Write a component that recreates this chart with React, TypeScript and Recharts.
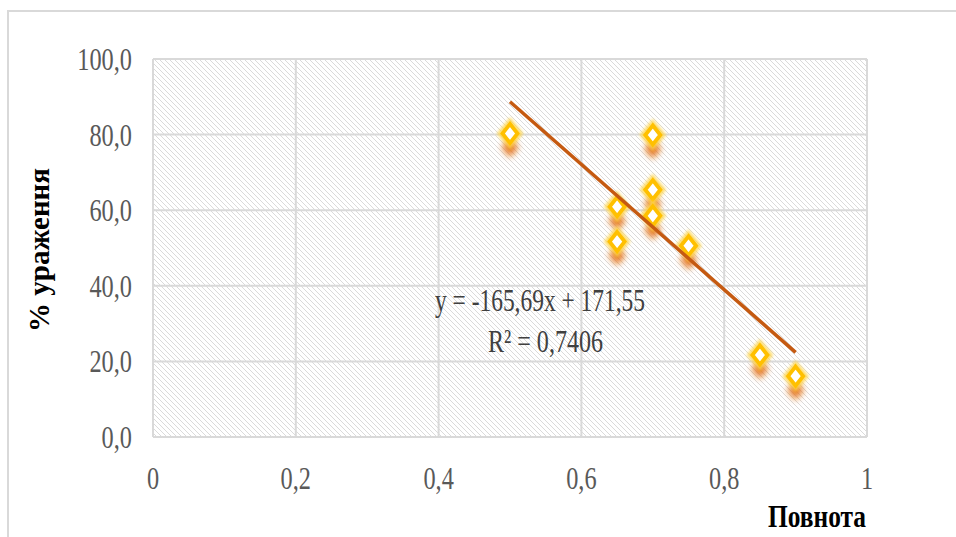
import { CartesianGrid, Scatter, ScatterChart, XAxis, YAxis } from "recharts";

// повнота (x) vs % ураження (y)
const povnota = [0.5, 0.65, 0.65, 0.7, 0.7, 0.7, 0.75, 0.85, 0.9];
const urazhennia = [80.3, 60.9, 51.7, 79.9, 65.4, 58.5, 50.6, 21.7, 16.1];

// linear trendline end points
const trendX = [0.5, 0.9];
const trendY = [88.7, 22.4];

const xTicks = [0, 0.2, 0.4, 0.6, 0.8, 1];
const yTicks = [0, 20, 40, 60, 80, 100];

const equationText = "y = -165,69x + 171,55";
const r2Text = "R² = 0,7406";
const xTitle = "Повнота";
const yTitle = "% ураження";

const points = povnota.map((x, i) => ({ x, y: urazhennia[i] }));
const trend = trendX.map((x, i) => ({ x, y: trendY[i] }));

const SERIF = "'Liberation Serif', 'Times New Roman', serif";

const YTick = (p: any) => (
  <text
    transform={`translate(${p.x - 21},${p.y + 11}) scale(0.76,1)`}
    textAnchor="end"
    fontSize={32}
    fontFamily={SERIF}
    fill="#595959"
  >
    {p.payload.value.toFixed(1).replace(".", ",")}
  </text>
);

const XTick = (p: any) => (
  <text
    transform={`translate(${p.x},${p.y + 52}) scale(0.76,1)`}
    textAnchor="middle"
    fontSize={32}
    fontFamily={SERIF}
    fill="#595959"
  >
    {String(p.payload.value).replace(".", ",")}
  </text>
);

const Diamond = (p: any) => {
  const { cx, cy } = p;
  if (cx == null || cy == null) return <g />;
  const d = (oy: number, w: number, h: number) =>
    `M${cx},${cy + oy - h} L${cx + w},${cy + oy} L${cx},${cy + oy + h} L${cx - w},${cy + oy} Z`;
  return (
    <g>
      <path d={d(14, 8.5, 10)} fill="#e36c09" opacity={0.9} filter="url(#shadowBlur)" />
      <path d={d(0, 9.5, 11.5)} fill="none" stroke="#ffd54a" strokeWidth={6} opacity={0.8} filter="url(#glowBlur)" />
      <path d={d(0, 7.5, 9.5)} fill="#ffffff" stroke="#ffc000" strokeWidth={3.8} />
    </g>
  );
};

const NoDot = () => <g />;

export default function App() {
  return (
    <div style={{ position: "absolute", left: 0, top: 0, width: 956, height: 537, background: "#fff" }}>
      <div
        style={{
          position: "absolute",
          left: 7,
          top: 10,
          width: 949,
          height: 527,
          borderTop: "2px solid #d9d9d9",
          borderLeft: "2px solid #d9d9d9",
          boxSizing: "border-box"
        }}
      />
      <div style={{ position: "absolute", left: 0, top: 0 }}>
        <ScatterChart width={956} height={537} margin={{ top: 59, right: 89, bottom: 0, left: 0 }}>
          <defs>
            <pattern id="hatch" width="5" height="5" patternUnits="userSpaceOnUse">
              <path d="M-1,-1 L6,6 M-1,4 L1,6 M4,-1 L6,1" stroke="#dadada" strokeWidth={1} />
            </pattern>
            <filter id="shadowBlur" x="-100%" y="-100%" width="300%" height="300%">
              <feGaussianBlur stdDeviation="3" />
            </filter>
            <filter id="glowBlur" x="-100%" y="-100%" width="300%" height="300%">
              <feGaussianBlur stdDeviation="1.5" />
            </filter>
          </defs>
          <CartesianGrid stroke="#d9d9d9" strokeWidth={2} fill="url(#hatch)" fillOpacity={1} />
          <XAxis
            type="number"
            dataKey="x"
            domain={[0, 1]}
            ticks={xTicks}
            axisLine={false}
            tickLine={false}
            tickSize={0}
            tickMargin={0}
            height={100}
            tick={<XTick />}
            interval={0}
            label={{
              content: (lp: any) => {
                const vb = lp.viewBox;
                return (
                  <text
                    x={vb.x + vb.width - 99}
                    y={vb.y + 90}
                    textLength={98}
                    lengthAdjust="spacingAndGlyphs"
                    fontSize={32}
                    fontWeight="bold"
                    fontFamily={SERIF}
                    fill="#000"
                  >
                    {xTitle}
                  </text>
                );
              }
            }}
          />
          <YAxis
            type="number"
            dataKey="y"
            domain={[0, 100]}
            ticks={yTicks}
            axisLine={false}
            tickLine={false}
            tickSize={0}
            tickMargin={0}
            width={153}
            tick={<YTick />}
            interval={0}
            label={{
              content: (lp: any) => {
                const vb = lp.viewBox;
                return (
                  <text
                    transform={`translate(49,${vb.y + vb.height / 2 + 2}) rotate(-90)`}
                    textAnchor="middle"
                    fontSize={29}
                    fontWeight="bold"
                    fontFamily={SERIF}
                    fill="#000"
                  >
                    {yTitle}
                  </text>
                );
              }
            }}
          />
          <Scatter data={points} shape={<Diamond />} isAnimationActive={false} />
          <Scatter
            data={trend}
            shape={<NoDot />}
            line={{ stroke: "#c55a11", strokeWidth: 3.5 }}
            isAnimationActive={false}
          />
        </ScatterChart>
      </div>
      <svg width={956} height={537} style={{ position: "absolute", left: 0, top: 0, pointerEvents: "none" }}>
        <text x={435} y={311} textLength={210} lengthAdjust="spacingAndGlyphs" fontSize={32} fontFamily={SERIF} fill="#404040">
          {equationText}
        </text>
        <text x={488} y={352} textLength={115} lengthAdjust="spacingAndGlyphs" fontSize={32} fontFamily={SERIF} fill="#404040">
          {r2Text}
        </text>
      </svg>
    </div>
  );
}
